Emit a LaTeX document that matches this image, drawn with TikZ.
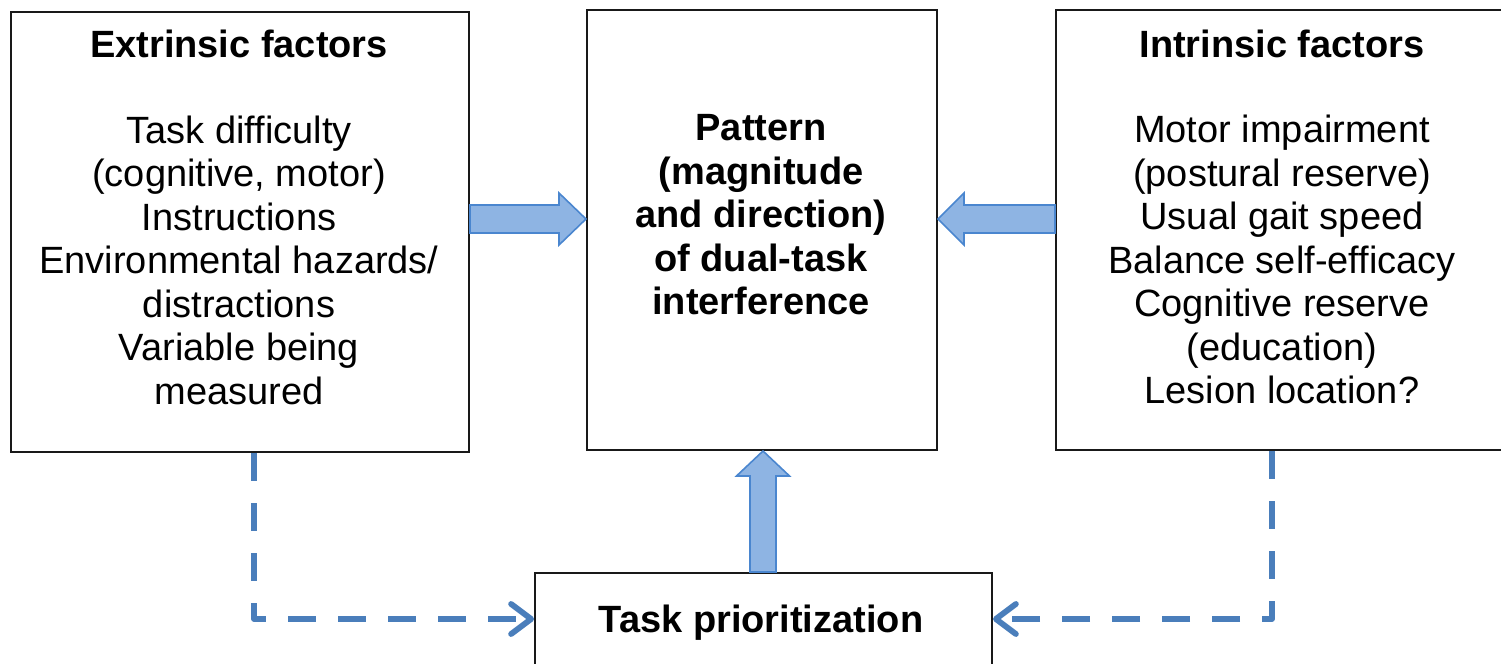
\documentclass[tikz,border=0pt]{standalone}
\usepackage{fontspec}
\setmainfont{Liberation Sans}
\usetikzlibrary{arrows.meta,calc}

\definecolor{blockfill}{HTML}{8EB4E3}
\definecolor{blockedge}{HTML}{4A86CF}
\definecolor{linkblue}{HTML}{4A7EBB}

\begin{document}
\begin{tikzpicture}[x=0.5pt,y=-0.5pt,
  box/.style={draw=black!90, line width=1pt, inner sep=0pt, fill=white},
  txt/.style={align=center, inner sep=0pt, anchor=north,
    font=\fontsize{19}{21.75}\selectfont, execute at begin node=\strut},
  ttl/.style={txt, font=\fontsize{19}{21.75}\selectfont\bfseries},
  blockarrow/.style={fill=blockfill, draw=blockedge, line width=0.8pt, line join=miter},
  link/.style={draw=linkblue, line width=2.9pt, dash pattern=on 14pt off 11pt,
    line join=round,
    -{Straight Barb[length=10pt,width=15pt,line cap=round,line join=round]}}
]
\useasboundingbox (0,0) rectangle (1501,664);
\clip (0,0) rectangle (1501,664);

% the four boxes
\node[box, minimum width=229pt, minimum height=220pt] (ext)  at (240,232) {};
\node[box, minimum width=175pt, minimum height=220pt] (pat)  at (762,230) {};
\node[box, minimum width=229pt, minimum height=220pt] (intr) at (1285,230) {};
\node[box, minimum width=228.5pt, minimum height=80pt] (task) at (763.5,653) {};

% box texts
\node[ttl] (extT) at (239,26.5) {Extrinsic factors};
\node[txt] (extB) at (239,115.5) {Task difficulty\\(cognitive, motor)\\Instructions\\Environmental hazards/\\distractions\\Variable being\\measured};
\node[ttl] (patT) at (761,114) {Pattern\\(magnitude\\and direction)\\of dual-task\\interference};
\node[ttl] (intrT) at (1282,26.5) {Intrinsic factors};
\node[txt] (intrB) at (1282,115) {Motor impairment\\(postural reserve)\\Usual gait speed\\Balance self-efficacy\\Cognitive reserve\\(education)\\Lesion location?};
\node[ttl] (taskT) at (761,601.5) {Task prioritization};

% rows and columns the connectors run along
\coordinate (row) at (0,219);
\coordinate (col) at (763,0);
\coordinate (lq) at (254,619);
\coordinate (rq) at (1272,619);

% block arrows into the central box
\draw[blockarrow] ($(pat.west|-row)+(-27,-26)$) -- (pat.west|-row)
  -- ($(pat.west|-row)+(-27,26)$) -- ($(pat.west|-row)+(-27,14)$)
  -- ($(ext.east|-row)+(0,14)$) -- ($(ext.east|-row)+(0,-14)$)
  -- ($(pat.west|-row)+(-27,-14)$) -- cycle;
\draw[blockarrow] ($(pat.east|-row)+(26,-26)$) -- (pat.east|-row)
  -- ($(pat.east|-row)+(26,26)$) -- ($(pat.east|-row)+(26,14)$)
  -- ($(intr.west|-row)+(0,14)$) -- ($(intr.west|-row)+(0,-14)$)
  -- ($(pat.east|-row)+(26,-14)$) -- cycle;
\draw[blockarrow] ($(pat.south-|col)+(-26.5,25)$) -- (pat.south-|col)
  -- ($(pat.south-|col)+(26.5,25)$) -- ($(pat.south-|col)+(13,25)$)
  -- ($(task.north-|col)+(13,0)$) -- ($(task.north-|col)+(-13,0)$)
  -- ($(pat.south-|col)+(-13,25)$) -- cycle;

% dashed links into the prioritization box
\draw[link] (ext.south -| lq) |- (task.west |- lq);
\draw[link] (intr.south -| rq) |- (task.east |- rq);
\end{tikzpicture}
\end{document}
